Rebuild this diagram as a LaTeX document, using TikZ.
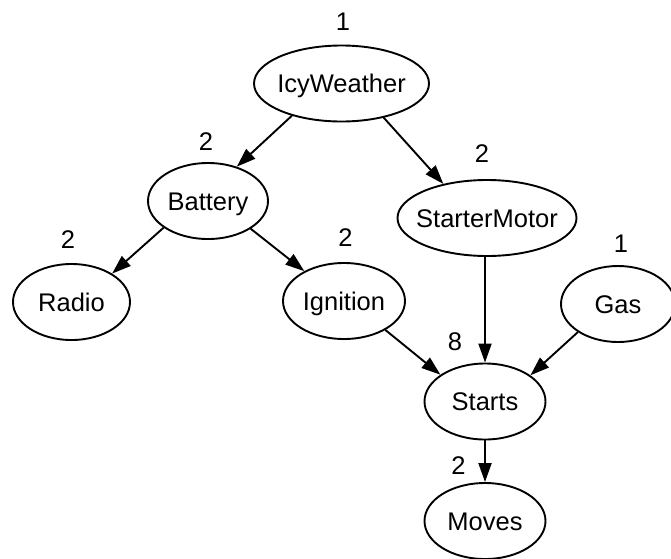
\documentclass[tikz,border=0pt]{standalone}
\usepackage{fontspec}
\setmainfont{Liberation Sans}
\usetikzlibrary{shapes.geometric,arrows.meta}
\begin{document}
\begin{tikzpicture}[x=1pt,y=-1pt,
  every node/.style={font=\fontsize{25.5}{30}\selectfont, text height=18pt, text depth=0pt, inner sep=0pt},
  var/.style={ellipse, draw, line width=1.9pt, minimum width=#1, minimum height=76pt},
  card/.style={},
  edge/.style={line width=1.9pt, -{Triangle[length=19pt,width=13pt]}}]
\useasboundingbox (0,0) rectangle (671,558);
\clip (0,0) rectangle (671,558);
\fill[white] (0,0) rectangle (671,558);
% variables
\node[var=175pt] (ice)    at (341.5,83.5) {\makebox[0pt]{IcyWeather}};
\node[var=120pt] (bat)    at (208,201)    {\makebox[0pt]{Battery}};
\node[var=179pt] (sm)     at (487,218)    {\makebox[0pt]{StarterMotor}};
\node[var=117pt] (radio)  at (71.5,302)   {\makebox[0pt]{Radio}};
\node[var=122pt] (ign)    at (344,301)    {\makebox[0pt]{Ignition}};
\node[var=114pt] (gas)    at (618,304)    {\makebox[0pt]{Gas}};
\node[var=121pt] (starts) at (485,401.5)  {\makebox[0pt]{Starts}};
\node[var=121pt] (moves)  at (485,521)    {\makebox[0pt]{Moves}};
% cardinalities
\node[card] (cice)    at (343,21)    {1};
\node[card] (cbat)    at (206,141)   {2};
\node[card] (csm)     at (482,153.5) {2};
\node[card] (cradio)  at (68,239.5)  {2};
\node[card] (cign)    at (345.5,237.5) {2};
\node[card] (cgas)    at (621,243)   {1};
\node[card] (cstarts) at (455,341.5) {8};
\node[card] (cmoves)  at (458.5,465) {2};
% edges
\draw[edge] (ice.213) -- (bat.50.7);
\draw[edge] (ice.321) -- (sm.142.4);
\draw[edge] (bat.211) -- (radio.35.9);
\draw[edge] (bat.327) -- (ign.143.4);
\draw[edge] (starts.north |- sm.south) -- (starts.north);
\draw[edge] (ign.325) -- (starts.149.2);
\draw[edge] (gas.215.3) -- (starts.30.4);
\draw[edge] (starts.south) -- (moves.north);
\end{tikzpicture}
\end{document}
